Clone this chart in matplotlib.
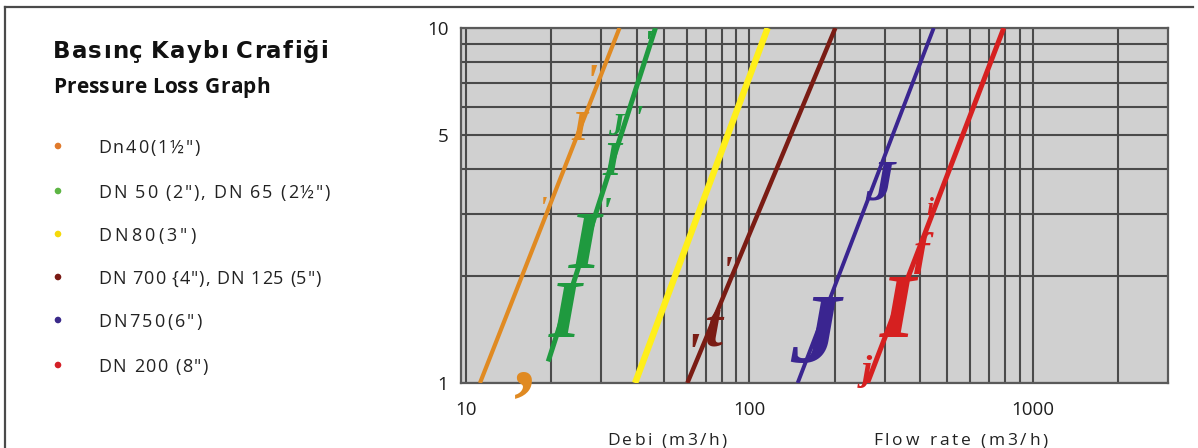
import matplotlib
matplotlib.use("Agg")
import matplotlib.pyplot as plt
from matplotlib.font_manager import FontProperties
from matplotlib.lines import Line2D
from matplotlib.patches import Circle

W, H = 1198, 448
DPI = 100

# ---------------- data ----------------
series_names = ['Dn40(1½")', 'DN 50 (2"), DN 65 (2½")', 'DN80(3")',
                'DN 700 {4"), DN 125 (5")', 'DN750(6")', 'DN 200 (8")']
series_colors = ['#E08A22', '#1F9A3F', '#FFEF1A', '#7A1C14', '#3A2590', '#D62020']
legend_dot_colors = ['#E07A2C', '#5DB544', '#F5D90A', '#7A1A14', '#3B2A8A', '#D42027']

# flow rate (m3/h) at the two ends of each straight curve, and pressure loss there
flow_dn40 = [11.2, 34.8]
press_dn40 = [1.0, 10.0]
flow_dn50 = [19.5, 46.6]
press_dn50 = [1.15, 10.0]
flow_dn80 = [39.5, 116.0]
press_dn80 = [1.0, 10.0]
flow_dn100 = [60.4, 201.0]
press_dn100 = [1.0, 10.0]
flow_dn150 = [148.0, 447.0]
press_dn150 = [1.0, 10.0]
flow_dn200 = [261.0, 790.0]
press_dn200 = [1.0, 10.0]

x_major = [10, 100, 1000]
x_major_labels = ['10', '100', '1000']
x_minor = [20, 30, 40, 50, 60, 70, 80, 90, 200, 300, 400, 500, 600, 700, 800, 900, 2000]
y_major = [1, 5, 10]
y_major_labels = ['1', '5', '10']
y_minor = [2, 3, 4, 6, 7, 8, 9]

title_tr = 'Basınç Kaybı Crafiği'
title_en = 'Pressure Loss Graph'
xlabel_tr = 'Debi (m3/h)'
xlabel_en = 'Flow rate (m3/h)'

# stray glyphs of the scanned original: (text, series index, x px, baseline y px, size pt)
glyph_text = [',', 'I', "'", "'", ' I\nI', 'I', "'", "'", 'J', "'",
              "'", "'", 't', 'J', 'J', 'I', 'f', 'j', 'i']
glyph_series = [0, 0, 0, 0, 1, 1, 1, 1, 1, 1, 3, 3, 3, 4, 4, 5, 5, 5, 5]
glyph_x = [528, 580, 591, 543, 575, 612, 647, 606, 616, 638,
           727, 692, 713, 815, 880, 898, 922, 867, 930]
glyph_y = [384, 140, 96, 218, 337, 175, 55, 224, 135, 128,
           283, 372, 345, 362, 200, 337, 264, 380, 215]
glyph_size = [64, 30, 34, 22, 60, 35, 26, 28, 22, 24,
              28, 40, 46, 72, 42, 66, 34, 26, 18]

# ---------------- figure ----------------
fig = plt.figure(figsize=(W / DPI, H / DPI), dpi=DPI)
fig.patch.set_facecolor('white')

def fx(px):
    return px / W

def fy(py):
    return 1 - py / H

# plot area
L, R, T, B = 461, 1168, 28, 383
ax = fig.add_axes([fx(L), fy(B), (R - L) / W, (B - T) / H])
ax.set_facecolor('#D0D0D0')
ax.set_xscale('log')
ax.set_yscale('log')
ax.set_xlim(9.6, 3000)
ax.set_ylim(1, 10)

ax.set_xticks(x_major)
ax.set_xticklabels(x_major_labels)
ax.set_xticks(x_minor, minor=True)
ax.set_xticklabels([], minor=True)
ax.set_yticks(y_major)
ax.set_yticklabels(y_major_labels)
ax.set_yticks(y_minor, minor=True)
ax.set_yticklabels([], minor=True)
ax.tick_params(which='both', length=0)
ax.tick_params(axis='x', labelsize=13.5, pad=13, colors='#1E1E1E')
ax.tick_params(axis='y', labelsize=13.5, pad=9, colors='#1E1E1E')
for lab in ax.get_xticklabels() + ax.get_yticklabels():
    lab.set_fontfamily('Open Sans')
ax.grid(True, which='both', color='#4A4A4A', lw=1.5)
ax.set_axisbelow(True)
for s in ax.spines.values():
    s.set_color('#5A5A5A')
    s.set_linewidth(1.6)

flows = [flow_dn40, flow_dn50, flow_dn80, flow_dn100, flow_dn150, flow_dn200]
press = [press_dn40, press_dn50, press_dn80, press_dn100, press_dn150, press_dn200]
widths = [3.0, 3.6, 4.6, 3.2, 2.8, 3.6]
for f, p, c, lw in zip(flows, press, series_colors, widths):
    ax.plot(f, p, color=c, lw=lw, solid_capstyle='butt', zorder=3)

# stray serif glyphs drawn in the colours of their curves
for t, si, gx, gy, gs in zip(glyph_text, glyph_series, glyph_x, glyph_y, glyph_size):
    fig.text(fx(gx), fy(gy), t, family='Liberation Serif', style='italic',
             weight='bold', fontsize=gs, color=series_colors[si],
             ha='center', va='baseline', multialignment='left',
             linespacing=0.9, zorder=5)

# ---------------- letter-spaced text helper ----------------
renderer = fig.canvas.get_renderer()

def spaced_text(x_px, y_px, s, size, target_w, color='#1A1A1A', ha='left',
                family='Open Sans', weight='normal'):
    prop = FontProperties(family=family, size=size, weight=weight)
    px_size = size * DPI / 72
    ws = []
    for ch in s:
        if ch == ' ':
            ws.append(0.26 * px_size)
        else:
            w, h, d = renderer.get_text_width_height_descent(ch, prop, ismath=False)
            ws.append(w)
    spacing = (target_w - sum(ws)) / (len(s) - 1)
    spacing = max(spacing, 0.3)
    total = sum(ws) + spacing * (len(s) - 1)
    x = x_px - total / 2 if ha == 'center' else x_px
    for ch, w in zip(s, ws):
        if ch != ' ':
            fig.text(fx(x), fy(y_px), ch, fontproperties=prop, color=color,
                     ha='left', va='baseline')
        x += w + spacing

# ---------------- titles ----------------
spaced_text(53, 58, title_tr, 16.5, 275, color='#111111',
            family='DejaVu Sans', weight='bold')
spaced_text(53, 93, title_en, 15.0, 217, color='#111111',
            family='Open Sans', weight='bold')

# ---------------- legend ----------------
leg_y = [146, 191, 234, 277, 320, 365]
leg_w = [102, 232, 98, 223, 104, 110]
for name, col, yy, tw in zip(series_names, legend_dot_colors, leg_y, leg_w):
    fig.patches.append(Circle((58, H - yy), 3.3, transform=None,
                              facecolor=col, edgecolor='none'))
    spaced_text(98, yy + 7, name, 13.0, tw, color='#222222')

# ---------------- axis labels ----------------
spaced_text(607, 445, xlabel_tr, 12.5, 120, color='#222222')
spaced_text(873, 445, xlabel_en, 12.5, 175, color='#222222')

# ---------------- frame ----------------
fig.add_artist(Line2D([fx(5), fx(1193)], [fy(7), fy(7)], color='#4A4A4A', lw=1.6))
fig.add_artist(Line2D([fx(5), fx(5)], [fy(7), fy(448)], color='#4A4A4A', lw=1.6))

fig.savefig('out.png', dpi=DPI)
